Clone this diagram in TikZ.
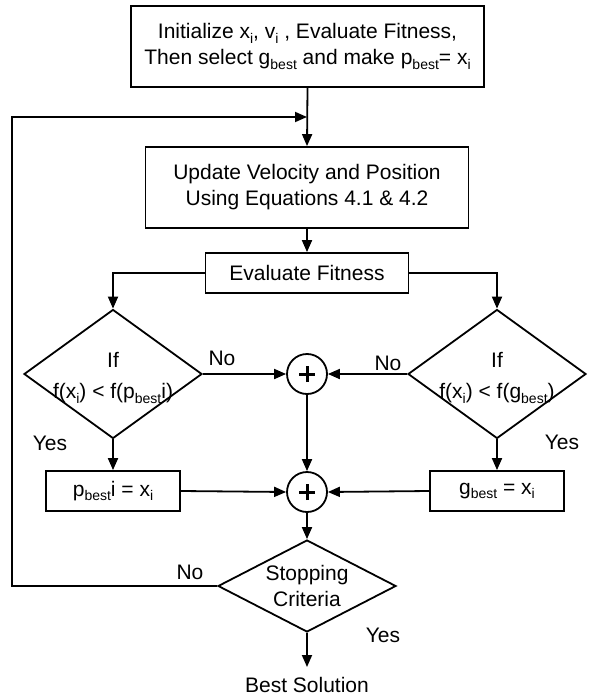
\documentclass[tikz,border=0pt]{standalone}
\usepackage{fontspec}
\setmainfont{Liberation Sans}
\usetikzlibrary{arrows.meta,shapes.geometric}
\newcommand\mysub[1]{\raisebox{-0.22em}{\fontsize{14}{14}\selectfont #1}}
\begin{document}
\begin{tikzpicture}[x=1pt,y=-1pt,
  every node/.style={font=\fontsize{21}{26}\selectfont},
  box/.style={draw,line width=1.8pt,inner sep=0pt,align=center},
  dia/.style={draw,line width=1.8pt,diamond,inner sep=0pt,minimum width=178pt},
  sumc/.style={draw,line width=1.8pt,circle,inner sep=0pt,minimum size=40pt},
  arr/.style={line width=1.8pt,-{Triangle[length=12pt,width=10pt]}},
  lbl/.style={inner sep=0pt}]
\useasboundingbox (0,0) rectangle (589,698);
\node[box,minimum width=353pt,minimum height=81pt] (init) at (307.5,46.5)
  {Initialize x\mysub{i}, v\mysub{i} , Evaluate Fitness,\\Then select g\mysub{best} and make p\mysub{best}= x\mysub{i}};
\node[box,minimum width=323pt,minimum height=81pt] (upd) at (307,187.5)
  {Update Velocity and Position\\Using Equations 4.1 \& 4.2};
\node[box,minimum width=203pt,minimum height=40pt] (fit) at (307,273) {Evaluate Fitness};
\node[dia,minimum height=129pt] (dl) at (113,374) {};
\node[dia,minimum height=129pt] (dr) at (497,374) {};
\node[lbl,align=center,font=\fontsize{21}{31}\selectfont] (tl) at (113,378) {If\\f(x\mysub{i}) < f(p\mysub{best}i)};
\node[lbl,align=center,font=\fontsize{21}{31}\selectfont] (tr) at (497,378) {If\\f(x\mysub{i}) < f(g\mysub{best})};
\node[sumc] (s1) at (307,374) {};
\node[sumc] (s2) at (307,492) {};
\draw[line width=3pt] ([xshift=-8pt]s1.center) -- ([xshift=8pt]s1.center) ([yshift=-8pt]s1.center) -- ([yshift=8pt]s1.center);
\draw[line width=3pt] ([xshift=-8pt]s2.center) -- ([xshift=8pt]s2.center) ([yshift=-8pt]s2.center) -- ([yshift=8pt]s2.center);
\node[box,minimum width=134pt,minimum height=40pt] (pb) at (113,491) {p\mysub{best}i = x\mysub{i}};
\node[box,minimum width=134pt,minimum height=40pt] (gb) at (497,491) {g\mysub{best} = x\mysub{i}};
\node[dia,minimum height=92pt] (stop) at (307,586) {};
\node[lbl,align=center] (ts) at (307,586) {Stopping\\Criteria};
\node[lbl] (best) at (307,685) {Best Solution};
\coordinate (loopin) at (307,117);
\coordinate (loopl) at (12,586);
\coordinate (bestin) at (307,667);
% connectors
\draw[arr] (init.south) -- (upd.north);
\draw[arr] (stop.west) -- (loopl) |- (loopin);
\draw[arr] (upd.south) -- (fit.north);
\draw[arr] (fit.west) -| (dl.north);
\draw[arr] (fit.east) -| (dr.north);
\draw[arr] (dl.east) -- (s1.west);
\draw[arr] (dr.west) -- (s1.east);
\draw[arr] (dl.south) -- (pb.north);
\draw[arr] (dr.south) -- (gb.north);
\draw[arr] (pb.east) -- (s2.west);
\draw[arr] (gb.west) -- (s2.east);
\draw[arr] (s1.south) -- (s2.north);
\draw[arr] (s2.south) -- (stop.north);
\draw[arr] (stop.south) -- (bestin);
% labels
\node[lbl] (no1) at (222,358) {No};
\node[lbl] (no2) at (388,363) {No};
\node[lbl] (yes1) at (50,443) {Yes};
\node[lbl] (yes2) at (562,442) {Yes};
\node[lbl] (no3) at (190,572) {No};
\node[lbl] (yes3) at (383,635) {Yes};
\end{tikzpicture}
\end{document}
